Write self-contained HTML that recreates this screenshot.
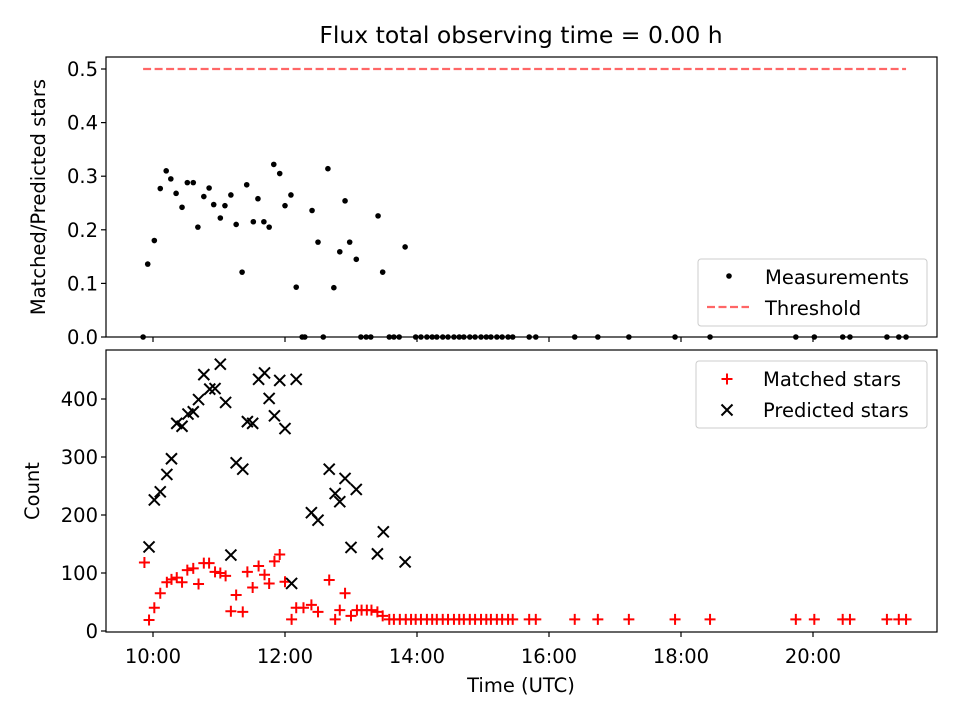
<!DOCTYPE html>
<html><head><meta charset="utf-8"><style>
body{margin:0;background:#fff;}
svg{display:block;font-family:"DejaVu Sans","Liberation Sans",sans-serif;}
</style></head><body>
<svg id="chart" width="960" height="720" viewBox="0 0 960 720" xmlns="http://www.w3.org/2000/svg">
<rect width="960" height="720" fill="#fff"/>
<text x="521" y="43" font-size="23.5" text-anchor="middle">Flux total observing time = 0.00 h</text>
<text x="45" y="197" font-size="19.5" text-anchor="middle" transform="rotate(-90 45 197)">Matched/Predicted stars</text>
<text x="39" y="491" font-size="19.5" text-anchor="middle" transform="rotate(-90 39 491)">Count</text>
<text x="521" y="692" font-size="19.5" text-anchor="middle">Time (UTC)</text>
<g id="g"></g>
</svg>
<script>
const ratioTimes=[9.85,9.92,10.02,10.11,10.20,10.27,10.35,10.44,10.52,10.61,10.68,10.77,10.85,10.92,11.02,11.09,11.18,11.26,11.35,11.42,11.52,11.59,11.68,11.76,11.83,11.92,12.00,12.09,12.17,12.26,12.30,12.41,12.50,12.58,12.65,12.74,12.83,12.91,12.98,13.08,13.15,13.23,13.30,13.41,13.48,13.58,13.65,13.73,13.82,13.98,14.06,14.15,14.23,14.30,14.39,14.47,14.56,14.64,14.71,14.80,14.88,14.97,15.05,15.12,15.21,15.29,15.38,15.45,15.70,15.80,16.39,16.74,17.21,17.91,18.44,19.74,20.02,20.45,20.56,21.12,21.30,21.41];
const ratioValues=[0,0.136,0.18,0.277,0.31,0.295,0.268,0.242,0.288,0.288,0.205,0.262,0.278,0.247,0.222,0.245,0.265,0.21,0.121,0.284,0.215,0.258,0.215,0.205,0.322,0.305,0.245,0.265,0.093,0,0,0.236,0.177,0,0.314,0.092,0.159,0.254,0.177,0.145,0,0,0,0.226,0.121,0,0,0,0.168,0,0,0,0,0,0,0,0,0,0,0,0,0,0,0,0,0,0,0,0,0,0,0,0,0,0,0,0,0,0,0,0,0];
const threshold=0.5;
const matchedTimes=[9.87,9.94,10.02,10.11,10.21,10.28,10.36,10.44,10.52,10.61,10.69,10.77,10.85,10.94,11.02,11.10,11.18,11.26,11.36,11.43,11.51,11.60,11.69,11.76,11.84,11.92,12.00,12.10,12.17,12.28,12.40,12.50,12.67,12.76,12.83,12.91,13.00,13.09,13.16,13.24,13.31,13.40,13.48,13.58,13.65,13.74,13.83,13.91,13.98,14.06,14.15,14.23,14.30,14.39,14.47,14.56,14.64,14.71,14.80,14.88,14.97,15.05,15.12,15.21,15.29,15.38,15.45,15.70,15.80,16.39,16.74,17.21,17.91,18.44,19.74,20.02,20.45,20.56,21.12,21.30,21.41];
const matchedCounts=[118,19,40,65,84,89,92,84,105,108,81,117,117,102,100,95,34,62,33,102,75,112,97,82,120,132,85,20,40,40,45,33,88,20,36,65,26,36,36,36,36,33,26,20,20,20,20,20,20,20,20,20,20,20,20,20,20,20,20,20,20,20,20,20,20,20,20,20,20,20,20,20,20,20,20,20,20,20,20,20,20];
const predictedTimes=[9.94,10.02,10.11,10.21,10.28,10.36,10.44,10.53,10.61,10.69,10.77,10.86,10.94,11.02,11.10,11.18,11.26,11.36,11.43,11.51,11.60,11.69,11.76,11.84,11.92,12.00,12.10,12.17,12.40,12.50,12.67,12.76,12.83,12.91,13.00,13.08,13.40,13.49,13.82];
const predictedCounts=[145,226,240,270,297,358,353,374,378,399,442,417,418,460,394,131,290,279,361,358,434,445,401,371,432,349,82,434,204,191,279,237,223,263,144,244,133,171,119];
const xTickHours=[10,12,14,16,18,20];
const xTickLabels=["10:00","12:00","14:00","16:00","18:00","20:00"];
const topTicks=[0,0.1,0.2,0.3,0.4,0.5];
const topTickLabels=["0.0","0.1","0.2","0.3","0.4","0.5"];
const botTicks=[0,100,200,300,400];
const botTickLabels=["0","100","200","300","400"];

const NS="http://www.w3.org/2000/svg";
const g=document.getElementById('g');
const L=106,R=937,T1=57,B1=337,T2=350,B2=632;
const xs=h=>153+(h-10)*66;
const y1=v=>337-v*536;
const y2=c=>631-c*0.58;
function mk(tag,at,parent){const e=document.createElementNS(NS,tag);for(const k in at)e.setAttribute(k,at[k]);(parent||g).appendChild(e);return e;}

let f1=mk('rect',{x:L,y:T1,width:R-L,height:B1-T1,fill:'none',stroke:'#000','stroke-width':1.2});


let f2=mk('rect',{x:L,y:T2,width:R-L,height:B2-T2,fill:'none',stroke:'#000','stroke-width':1.2});



xTickHours.forEach((h,i)=>{
  const x=xs(h);
  let t=mk('line',{x1:x,x2:x,y1:B1,y2:B1+5,stroke:'#000','stroke-width':1.2});
  
  
  let t2=mk('line',{x1:x,x2:x,y1:B2,y2:B2+5,stroke:'#000','stroke-width':1.2});
  
  
  let tl=mk('text',{x:x,y:663,'font-size':19.5,'text-anchor':'middle'});
  tl.textContent=xTickLabels[i];
  
  
});
topTicks.forEach((v,i)=>{
  const y=y1(v);
  let t=mk('line',{x1:L-5,x2:L,y1:y,y2:y,stroke:'#000','stroke-width':1.2});
  
  
  let tl=mk('text',{x:L-8,y:y+7,'font-size':19.5,'text-anchor':'end'});
  tl.textContent=topTickLabels[i];
  
  
});
botTicks.forEach((v,i)=>{
  const y=y2(v);
  let t=mk('line',{x1:L-5,x2:L,y1:y,y2:y,stroke:'#000','stroke-width':1.2});
  
  
  let tl=mk('text',{x:L-8,y:y+7,'font-size':19.5,'text-anchor':'end'});
  tl.textContent=botTickLabels[i];
  
  
});

const tmin=Math.min(...ratioTimes),tmax=Math.max(...ratioTimes);
let th=mk('line',{x1:xs(tmin),x2:xs(tmax),y1:y1(threshold),y2:y1(threshold),stroke:'#ff0000','stroke-opacity':0.6,'stroke-width':2.2,'stroke-dasharray':'8,3.5'});



ratioTimes.forEach((h,i)=>{
  let c=mk('circle',{cx:xs(h),cy:y1(ratioValues[i]),r:2.8,fill:'#000'});
  
  
});
function plus(x,y,s,col,name){
  let p=mk('path',{d:`M${x-s},${y}H${x+s}M${x},${y-s}V${y+s}`,stroke:col,'stroke-width':2,fill:'none'});
  
  
}
function cross(x,y,s,name){
  let p=mk('path',{d:`M${x-s},${y-s}L${x+s},${y+s}M${x-s},${y+s}L${x+s},${y-s}`,stroke:'#000','stroke-width':2,fill:'none'});
  
  
}
matchedTimes.forEach((h,i)=>plus(xs(h),y2(matchedCounts[i]),5.5,'#ff0000','matched-star-point'));
predictedTimes.forEach((h,i)=>cross(xs(h),y2(predictedCounts[i]),5.5,'predicted-star-point'));

let lg1=mk('rect',{x:698,y:259,width:229,height:67,rx:3,fill:'#fff','fill-opacity':0.8,stroke:'#ccc'});


let d=mk('circle',{cx:729,cy:276,r:2.8,fill:'#000'});


let lt=mk('text',{x:765,y:284,'font-size':19.5});lt.textContent='Measurements';


let ll=mk('line',{x1:707,x2:749,y1:307,y2:307,stroke:'#ff0000','stroke-opacity':0.6,'stroke-width':2.2,'stroke-dasharray':'8,3.5'});


let lt2=mk('text',{x:765,y:315,'font-size':19.5});lt2.textContent='Threshold';



let lg2=mk('rect',{x:696,y:361,width:231,height:67,rx:3,fill:'#fff','fill-opacity':0.8,stroke:'#ccc'});


plus(727,379,5.5,'#ff0000','legend-matched-marker');
let lt3=mk('text',{x:763,y:386,'font-size':19.5});lt3.textContent='Matched stars';


cross(727,410,5.5,'legend-predicted-marker');
let lt4=mk('text',{x:763,y:417,'font-size':19.5});lt4.textContent='Predicted stars';


</script>
</body></html>
